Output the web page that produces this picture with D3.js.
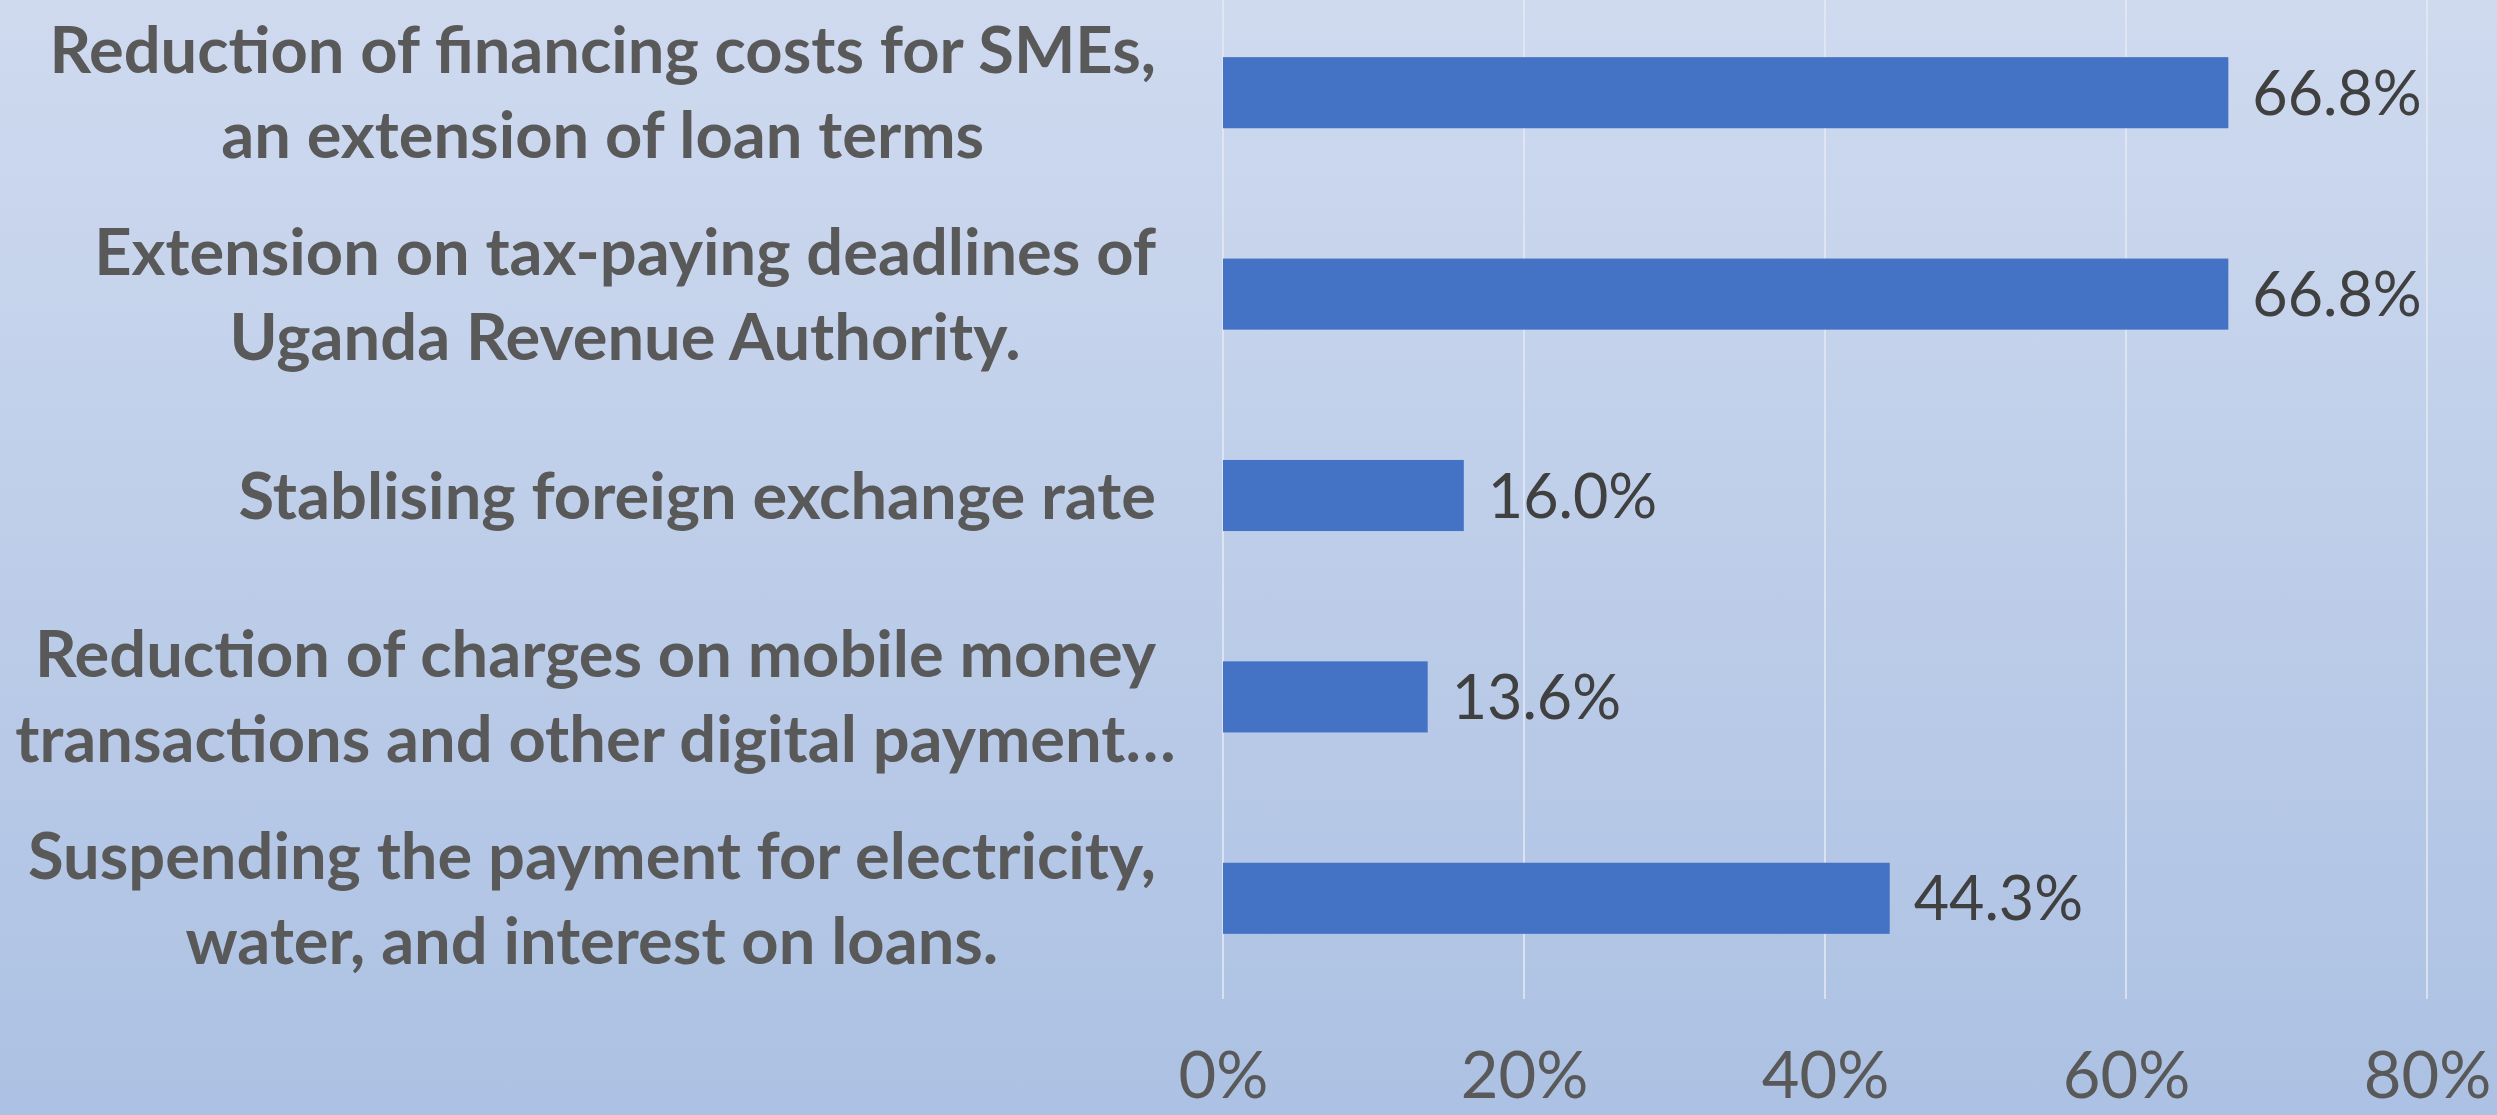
<!DOCTYPE html>
<html>
<head>
<meta charset="utf-8">
<script src="https://cdn.jsdelivr.net/npm/d3@7"></script>
<style>
  html, body { margin: 0; padding: 0; overflow: hidden; }
  body { width: 2497px; height: 1115px; }
</style>
</head>
<body>
<div id="chart"></div>
<script>
// categories, top to bottom (each one split in its display lines)
const categories = [
  ['Reduction of financing costs for SMEs,', 'an extension of loan terms'],
  ['Extension on tax-paying deadlines of', 'Uganda Revenue Authority.'],
  ['Stablising foreign exchange rate'],
  ['Reduction of charges on mobile money', 'transactions and other digital payment…'],
  ['Suspending the payment for electricity,', 'water, and interest on loans.']
];
const values = [0.668, 0.668, 0.160, 0.136, 0.443];
const ticks = [0, 0.2, 0.4, 0.6, 0.8];

class BarChart {
  svg;
  graph;

  constructor(target, width, height) {
    this.width = width;
    this.height = height;
    this.svg = d3.select(target)
      .append('svg')
      .attr('width', width)
      .attr('height', height);

    const grad = this.svg.append('defs')
      .append('linearGradient')
        .attr('id', 'bg')
        .attr('x1', 0).attr('y1', 0)
        .attr('x2', 0).attr('y2', 1);
    grad.append('stop').attr('offset', '0%').attr('stop-color', '#cfdaef');
    grad.append('stop').attr('offset', '100%').attr('stop-color', '#acc1e3');

    this.svg.append('rect')
      .attr('width', width)
      .attr('height', height)
      .attr('fill', 'url(#bg)');

    this.graph = this.svg.append('g');
  }

  draw() {
    const ids = categories.map((c, i) => i);
    const x = d3.scaleLinear().domain([0, 0.8]).range([1223, 2427]);
    const y = d3.scaleBand().domain(ids).range([-8, 999])
      .paddingInner(0.647).paddingOuter(0.3235);

    // vertical gridlines
    this.graph.append('g')
      .selectAll('line')
      .data(ticks)
      .join('line')
        .attr('x1', d => x(d)).attr('x2', d => x(d))
        .attr('y1', 0).attr('y2', 999)
        .attr('stroke', '#e4e9f3')
        .attr('stroke-opacity', 0.8)
        .attr('stroke-width', 2);

    // x axis labels
    const xAxis = d3.axisBottom(x)
      .tickValues(ticks)
      .tickFormat(d3.format('.0%'))
      .tickSize(0)
      .tickPadding(0);
    const ax = this.graph.append('g')
      .attr('transform', 'translate(0, 1098)')
      .call(xAxis);
    ax.select('.domain').remove();
    ax.selectAll('text')
      .attr('dy', null)
      .attr('y', 0)
      .attr('fill', '#595959')
      .style('font-family', 'Lato, sans-serif')
      .style('font-size', '65px');

    // bars
    this.graph.append('g')
      .selectAll('rect')
      .data(values)
      .join('rect')
        .attr('x', x(0))
        .attr('y', (d, i) => y(i))
        .attr('width', d => x(d) - x(0))
        .attr('height', y.bandwidth())
        .attr('fill', '#4472c4');

    // value labels
    this.graph.append('g')
      .selectAll('text')
      .data(values)
      .join('text')
        .attr('x', d => x(d) + 24)
        .attr('y', (d, i) => y(i) + y.bandwidth() / 2 + 22)
        .attr('fill', '#404040')
        .style('font-family', 'Lato, sans-serif')
        .style('font-size', '61px')
        .text(d => d3.format('.1%')(d));

    // category labels, block right-aligned, lines centred in the block;
    // a truncated line (ending in …) is allowed to spill past the edge
    const rightEdge = 1156;
    const lineH = 85;
    const capH = 46;
    const labels = this.graph.append('g')
      .selectAll('text')
      .data(categories)
      .join('text')
        .attr('fill', '#595959')
        .attr('text-anchor', 'middle')
        .style('font-family', 'Lato, sans-serif')
        .style('font-weight', 'bold')
        .style('font-size', '65px');

    labels.each(function (lines, i) {
      const t = d3.select(this);
      const mid = y(i) + y.bandwidth() / 2;
      lines.forEach((line, j) => {
        t.append('tspan')
          .attr('y', mid + capH / 2 + (j - (lines.length - 1) / 2) * lineH)
          .text(line);
      });
      let maxW = 0;
      t.selectAll('tspan').each(function (d, j) {
        if (!lines[j].endsWith('…')) {
          maxW = Math.max(maxW, this.getComputedTextLength());
        }
      });
      t.selectAll('tspan').attr('x', rightEdge - maxW / 2);
    });
  }
}

const chart = new BarChart('#chart', 2497, 1115);
chart.draw();
</script>
</body>
</html>
